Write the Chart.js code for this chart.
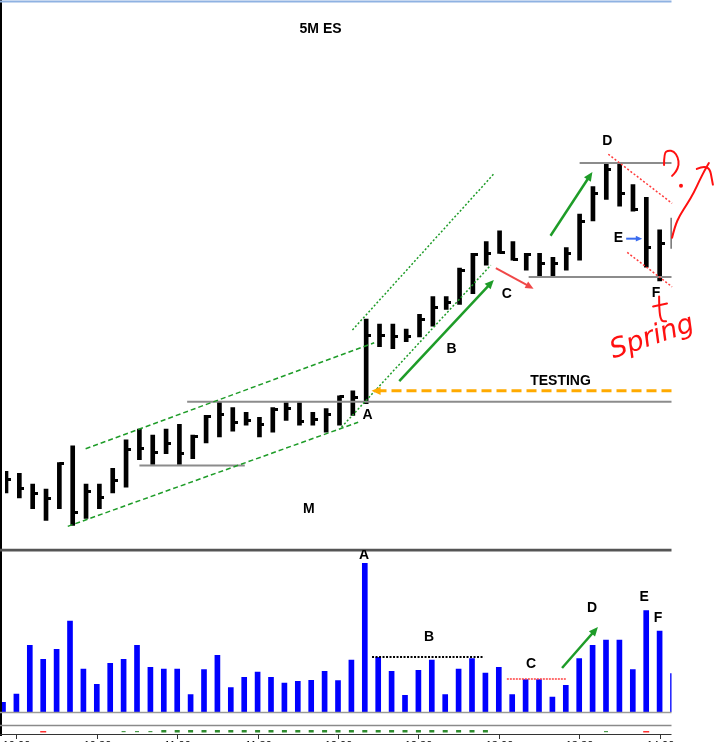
<!DOCTYPE html>
<html lang="en">
<head>
<meta charset="UTF-8">
<title>5M ES</title>
<script src="https://cdn.jsdelivr.net/npm/chart.js"></script>
<style>
    body { margin: 0; background: #fff; }
    #wrap { position: relative; width: 714px; height: 742px; overflow: hidden; }
    #wrap canvas { position: absolute; left: 0; }
    #priceChart { top: 0; }
    #volChart { top: 550px; }
</style>
</head>
<body>
<div id="wrap">
    <canvas id="priceChart" width="714" height="550"></canvas>
    <canvas id="volChart" width="714" height="192"></canvas>
</div>
<script>
// 5 minute bars, high / low / close
const highs = [1312.5, 1312.3, 1311.2, 1310.7, 1313.4, 1315.1, 1311.2, 1311.2, 1312.8, 1315.7,
               1316.8, 1316.2, 1316.8, 1317.3, 1316.2, 1318.2, 1319.6, 1319.0, 1318.5, 1318.0,
               1319.0, 1319.5, 1319.5, 1318.5, 1318.9, 1320.2, 1320.7, 1328.0, 1327.5, 1327.5,
               1327.0, 1328.5, 1330.3, 1330.3, 1333.2, 1334.7, 1335.9, 1337.0, 1335.9, 1334.7,
               1334.7, 1334.3, 1335.3, 1338.7, 1341.5, 1343.8, 1343.8, 1341.7, 1340.4, 1337.1, 1338.3];
const lows  = [1310.3, 1309.8, 1308.7, 1307.5, 1308.7, 1307.0, 1307.7, 1308.7, 1310.3, 1310.9,
               1313.7, 1313.2, 1314.3, 1313.2, 1313.8, 1315.4, 1316.0, 1316.6, 1317.2, 1316.0,
               1316.5, 1317.7, 1317.2, 1317.2, 1316.5, 1317.2, 1318.2, 1319.4, 1325.2, 1325.0,
               1325.7, 1326.2, 1327.3, 1329.0, 1329.5, 1330.6, 1333.5, 1334.7, 1334.0, 1333.0,
               1332.3, 1332.3, 1333.0, 1334.0, 1338.0, 1340.2, 1339.5, 1339.0, 1333.3, 1331.9, 1335.2];
const closes = [1311.7, 1310.8, 1310.2, 1309.7, 1313.3, 1308.3, 1310.5, 1309.8, 1311.6, 1314.7,
                1314.8, 1314.4, 1315.3, 1314.3, 1316.1, 1318.1, 1318.3, 1317.5, 1317.7, 1317.3,
                1318.8, 1318.9, 1317.6, 1317.8, 1318.3, 1320.1, 1320.0, 1326.3, 1326.3, 1326.2,
                1326.2, 1328.0, 1329.2, 1329.7, 1333.0, 1334.6, 1334.7, 1334.8, 1334.1, 1334.6,
                1333.7, 1333.7, 1334.7, 1338.0, 1340.8, 1343.2, 1340.8, 1339.2, 1335.3, 1335.7, 1337.0];
const volumes = [970, 1800, 6670, 5270, 6270, 9100, 4300, 2770, 4870, 5270,
                 6670, 4470, 4300, 4300, 1730, 4230, 5670, 2430, 3470, 4000,
                 3470, 2900, 3070, 3170, 4070, 3130, 5200, 14870, 5470, 4070,
                 1670, 4170, 5200, 1730, 4300, 5330, 3900, 4470, 1730, 3230,
                 3230, 1500, 2670, 5330, 6670, 7200, 7200, 4230, 10130, 8100, 3830];
// indicator strip under the volume: 1 green, 2 faint green, -1 red, 0 nothing
const signals = [0, 0, 0, -1, 0, 0, 0, 0, 0, 2,
                 2, 2, 1, 1, 1, 1, 1, 1, 1, 1,
                 1, 1, 1, 1, 1, 1, 1, 1, 1, 1,
                 1, 1, 1, 1, 1, 1, 1, 0, 0, 0,
                 0, 0, 0, 0, 0, 2, 0, 0, -1, 0, 0];
const timeTickBars = [1, 7, 13, 19, 25, 31, 37, 43, 49];
const timeLabels = ['10:00', '10:30', '11:00', '11:30', '12:00', '12:30', '13:00', '13:30', '14:00'];

// drawn notes, in bar index / price units
const dashedChannel = [[5.97, 1314.8, 27.6, 1325.6], [4.63, 1306.9, 26.4, 1317.5]];
const dottedChannel = [[25.97, 1326.9, 36.57, 1342.8], [25.15, 1317.0, 36.34, 1333.5]];
const levels = [[13.58, 1319.6], [10.0, 1313.1, 17.9], [39.18, 1332.3], [43.0, 1343.9]];
const redDotted = [[45.15, 1344.8, 49.93, 1339.8], [46.57, 1334.8, 49.93, 1331.3]];
const priceLabels = [['A', 27.1, 1318.2], ['B', 33.4, 1324.9], ['C', 37.54, 1330.6], ['D', 45.07, 1346.1],
                     ['E', 45.9, 1336.3], ['F', 48.73, 1330.7], ['M', 22.7, 1308.7]];
const volLabels = [['A', 26.94, 15700], ['B', 31.79, 7500], ['C', 39.4, 4800], ['D', 43.96, 10400],
                   ['E', 47.84, 11500], ['F', 48.88, 9400]];

const xMin = -0.075, xMax = 49.888;
const barIndex = closes.map((c, i) => i);

// close tick: right half of a small image so it sticks out to the right of the bar
const tickImg = document.createElement('canvas');
tickImg.width = 10; tickImg.height = 3;
const tctx = tickImg.getContext('2d');
tctx.fillStyle = '#000';
tctx.fillRect(5, 0, 5, 3);

function seg(ctx, a, b, color, width, dash) {
    ctx.save();
    ctx.strokeStyle = color; ctx.lineWidth = width; ctx.setLineDash(dash || []);
    ctx.beginPath(); ctx.moveTo(a[0], a[1]); ctx.lineTo(b[0], b[1]); ctx.stroke();
    ctx.restore();
}

function arrow(ctx, a, b, color, width, head, dash) {
    const ang = Math.atan2(b[1] - a[1], b[0] - a[0]);
    seg(ctx, a, [b[0] - Math.cos(ang) * head * 0.7, b[1] - Math.sin(ang) * head * 0.7], color, width, dash);
    ctx.save();
    ctx.fillStyle = color;
    ctx.beginPath();
    ctx.moveTo(b[0], b[1]);
    ctx.lineTo(b[0] - head * Math.cos(ang - 0.42), b[1] - head * Math.sin(ang - 0.42));
    ctx.lineTo(b[0] - head * Math.cos(ang + 0.42), b[1] - head * Math.sin(ang + 0.42));
    ctx.closePath(); ctx.fill();
    ctx.restore();
}

function text(ctx, str, p, font, color) {
    ctx.save();
    ctx.font = font; ctx.fillStyle = color || '#000';
    ctx.textAlign = 'center'; ctx.textBaseline = 'middle';
    ctx.fillText(str, p[0], p[1]);
    ctx.restore();
}

function scribble(ctx, pts, color, width) {
    ctx.save();
    ctx.strokeStyle = color; ctx.lineWidth = width; ctx.lineCap = 'round'; ctx.lineJoin = 'round';
    ctx.beginPath();
    ctx.moveTo(pts[0][0], pts[0][1]);
    for (let i = 1; i < pts.length - 1; i++) {
        const mx = (pts[i][0] + pts[i + 1][0]) / 2, my = (pts[i][1] + pts[i + 1][1]) / 2;
        ctx.quadraticCurveTo(pts[i][0], pts[i][1], mx, my);
    }
    ctx.lineTo(pts[pts.length - 1][0], pts[pts.length - 1][1]);
    ctx.stroke();
    ctx.restore();
}

const priceNotes = {
    id: 'priceNotes',
    afterDraw(chart) {
        const ctx = chart.ctx, x = chart.scales.x, y = chart.scales.y;
        const P = (i, v) => [x.getPixelForValue(i), y.getPixelForValue(v)];
        const right = chart.chartArea.right;
        const green = '#1e9c28';

        // frame
        ctx.save();
        ctx.fillStyle = '#000'; ctx.fillRect(0, 0, 2, chart.height);
        ctx.restore();
        seg(ctx, [0, 1.5], [right, 1.5], '#8fb2e2', 2);
        seg(ctx, [0, chart.height - 0.5], [right, chart.height - 0.5], '#555', 1.5);

        levels.forEach(l => {
            const a = P(l[0], l[1]);
            const b = l[2] !== undefined ? P(l[2], l[1]) : [right, a[1]];
            seg(ctx, a, b, '#8c8c8c', 2);
        });
        dashedChannel.forEach(l => seg(ctx, P(l[0], l[1]), P(l[2], l[3]), green, 1.5, [5, 3]));
        dottedChannel.forEach(l => seg(ctx, P(l[0], l[1]), P(l[2], l[3]), green, 1.5, [2, 2]));
        redDotted.forEach(l => seg(ctx, P(l[0], l[1]), P(l[2], l[3]), '#ff3b3b', 1.5, [2, 2]));

        arrow(ctx, [right, y.getPixelForValue(1320.7)], P(27.4, 1320.7), '#ffaa00', 3, 10, [10, 5]);
        arrow(ctx, P(29.48, 1321.7), P(36.57, 1332.0), green, 2.5, 10);
        arrow(ctx, P(40.82, 1336.5), P(43.96, 1343.0), green, 2.5, 10);
        arrow(ctx, P(36.72, 1333.2), P(39.55, 1331.1), '#f04848', 2, 9);
        arrow(ctx, P(46.49, 1336.2), P(47.69, 1336.2), '#3a6cf0', 2, 7);

        priceLabels.forEach(l => text(ctx, l[0], P(l[1], l[2]), 'bold 14px "Liberation Sans", Arial', '#000'));
        text(ctx, 'TESTING', P(41.57, 1321.7), 'bold 14px "Liberation Sans", Arial', '#000');
        text(ctx, '5M ES', P(23.58, 1357.5), 'bold 14px "Liberation Sans", Arial', '#000');

        // red handwriting on the right
        const red = '#ff1010';
        scribble(ctx, [P(49.33, 1343.7), P(49.33, 1344.9), P(49.63, 1345.2), P(50.07, 1345.1),
                       P(50.37, 1344.5), P(50.45, 1343.7), P(50.22, 1343.0), P(49.93, 1342.6)], red, 2);
        const dot = P(50.6, 1341.6);
        ctx.save(); ctx.fillStyle = red; ctx.beginPath(); ctx.arc(dot[0], dot[1], 2, 0, Math.PI * 2); ctx.fill(); ctx.restore();
        scribble(ctx, [P(49.93, 1336.3), P(50.15, 1337.5), P(50.52, 1338.6), P(51.04, 1339.7),
                       P(51.57, 1340.9), P(52.01, 1342.2), P(52.39, 1343.2), P(52.69, 1343.9)], red, 2);
        scribble(ctx, [P(51.79, 1343.3), P(52.69, 1343.9), P(52.99, 1341.7)], red, 2);
        scribble(ctx, [P(48.96, 1330.3), P(48.96, 1329.0), P(49.1, 1327.8), P(49.48, 1327.8)], red, 2);
        scribble(ctx, [P(48.51, 1329.3), P(49.55, 1329.6)], red, 2);
        const s = P(45.52, 1324.0);
        ctx.save();
        ctx.translate(s[0], s[1]); ctx.rotate(-0.33);
        ctx.font = 'italic 27px "DejaVu Sans"'; ctx.fillStyle = red;
        ctx.textAlign = 'left'; ctx.textBaseline = 'alphabetic';
        ctx.fillText('Spring', 0, 0);
        ctx.restore();
    }
};

const volNotes = {
    id: 'volNotes',
    afterDraw(chart) {
        const ctx = chart.ctx, x = chart.scales.x, y = chart.scales.y;
        const P = (i, v) => [x.getPixelForValue(i), y.getPixelForValue(v)];
        const right = chart.chartArea.right;
        const base = y.getPixelForValue(0);

        ctx.save();
        ctx.fillStyle = '#000'; ctx.fillRect(0, 0, 2, 186);
        ctx.restore();
        seg(ctx, [0, 0.75], [right, 0.75], '#555', 1.5);
        seg(ctx, [0, base + 0.5], [right, base + 0.5], '#9a9a9a', 1.5);
        seg(ctx, [0, base + 13.5], [right, base + 13.5], '#8a8a8a', 1.5);
        seg(ctx, [0, base + 22.5], [right, base + 22.5], '#333', 1);

        // indicator strip
        signals.forEach((s, i) => {
            const px = x.getPixelForValue(i);
            if (s === 1) { ctx.fillStyle = '#2e8b2e'; ctx.fillRect(px - 2.5, base + 18, 5, 2.5); }
            if (s === 2) { ctx.fillStyle = '#4a9a4a'; ctx.fillRect(px - 2, base + 19, 4, 1.2); }
            if (s === -1) { ctx.fillStyle = '#ff3030'; ctx.fillRect(px - 3, base + 19, 6, 1.5); }
        });

        // time axis, cut off at the bottom like the screenshot
        timeTickBars.forEach((b, k) => {
            const px = Math.round(x.getPixelForValue(b)) + 0.5;
            seg(ctx, [px, base + 22.5], [px, base + 27], '#333', 1);
            ctx.save();
            ctx.font = '11px "Liberation Sans", Arial'; ctx.fillStyle = '#000';
            ctx.textAlign = 'center'; ctx.textBaseline = 'top';
            ctx.fillText(timeLabels[k], px, base + 28);
            ctx.restore();
        });

        seg(ctx, P(27.54, 5500), P(35.9, 5500), '#000', 2, [2, 1.5]);
        seg(ctx, P(37.6, 3300), P(42.0, 3300), '#ff4040', 1.5, [2, 1]);
        arrow(ctx, P(41.72, 4400), P(44.4, 8500), '#1e9c28', 2.5, 10);
        volLabels.forEach(l => text(ctx, l[0], P(l[1], l[2]), 'bold 14px "Liberation Sans", Arial', '#000'));
    }
};

const xScale = { type: 'linear', min: xMin, max: xMax, offset: false, display: false };

new Chart(document.getElementById('priceChart'), {
    type: 'bar',
    data: {
        datasets: [{
            label: 'High-Low',
            data: barIndex.map(i => ({ x: i, y: [lows[i], highs[i]] })),
            backgroundColor: '#000',
            borderWidth: 0,
            barThickness: 4
        }, {
            type: 'line',
            label: 'Close',
            data: barIndex.map(i => ({ x: i, y: closes[i] })),
            showLine: false,
            pointStyle: tickImg,
            pointRadius: 3
        }]
    },
    options: {
        responsive: false,
        animation: false,
        layout: { padding: { left: 2, right: 42.5, top: 0, bottom: 0 } },
        scales: {
            x: xScale,
            y: { min: 1305, max: 1360, display: false }
        },
        plugins: { legend: { display: false }, tooltip: { enabled: false } }
    },
    plugins: [priceNotes]
});

new Chart(document.getElementById('volChart'), {
    type: 'bar',
    data: {
        datasets: [{
            label: 'Volume',
            data: barIndex.map(i => ({ x: i, y: volumes[i] })),
            backgroundColor: '#0000ff',
            borderWidth: 0,
            barThickness: 5
        }]
    },
    options: {
        responsive: false,
        animation: false,
        layout: { padding: { left: 2, right: 42.5, top: 1, bottom: 30 } },
        scales: {
            x: xScale,
            y: { min: 0, max: 16100, display: false }
        },
        plugins: { legend: { display: false }, tooltip: { enabled: false } }
    },
    plugins: [volNotes]
});
</script>
</body>
</html>
